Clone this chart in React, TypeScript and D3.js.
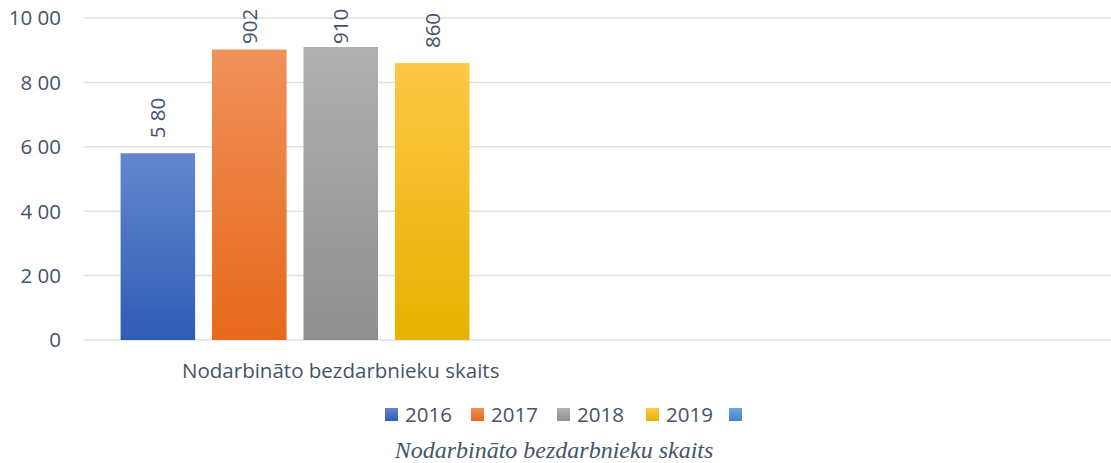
import React, { useEffect } from 'react';
import * as d3 from 'd3';

// chart data
const categories = ['Nodarbināto bezdarbnieku skaits', ''];
const seriesNames = ['2016', '2017', '2018', '2019', ''];
const values = [580, 902, 910, 860, null];
const valueLabels = ['5 80', '902', '910', '860', ''];
const yTicks = [0, 200, 400, 600, 800, 1000];
const yTickLabels = ['0', '2 00', '4 00', '6 00', '8 00', '10 00'];
const caption = 'Nodarbināto bezdarbnieku skaits';

// gradient colours per series: [top, bottom]
const colors = [
  ['#6486cd', '#2e5db6'],
  ['#f19159', '#e6681b'],
  ['#b1b1b1', '#8f8f8f'],
  ['#ffc746', '#e5b300'],
  ['#6ea7dd', '#3f85c9'],
];

const W = 1111;
const H = 463;
const textColor = '#44546a';
const gridColor = '#dde1e6';
const font = '"Open Sans", "Noto Sans", sans-serif';

export default function App() {
  useEffect(() => {
    document.body.style.margin = '0';
  }, []);

  const x0 = d3.scaleBand().domain(categories).range([84, W]);
  const x1 = d3
    .scaleBand()
    .domain(seriesNames.map((_, i) => String(i)))
    .range([0, x0.bandwidth()])
    .paddingInner(0.185)
    .paddingOuter(0.4);
  const y = d3.scaleLinear().domain([0, 1000]).range([340, 18]);

  // legend layout
  const legendStep = [86, 86, 89, 83];
  const legendX: number[] = [];
  let lx = 385;
  seriesNames.forEach((_, i) => {
    legendX.push(lx);
    lx += legendStep[i] || 0;
  });

  return (
    <svg width={W} height={H} style={{ display: 'block', background: '#fff' }}>
      <defs>
        {colors.map((c, i) => (
          <linearGradient key={i} id={`grad${i}`} x1="0" y1="0" x2="0" y2="1">
            <stop offset="0%" stopColor={c[0]} />
            <stop offset="100%" stopColor={c[1]} />
          </linearGradient>
        ))}
      </defs>

      {/* gridlines */}
      {yTicks.map((t) => (
        <line
          key={t}
          x1={84}
          x2={W}
          y1={y(t)}
          y2={y(t)}
          stroke={gridColor}
          strokeWidth={1.5}
        />
      ))}

      {/* y tick labels */}
      {yTicks.map((t, i) => (
        <text
          key={t}
          x={61}
          y={y(t)}
          dy="0.36em"
          textAnchor="end"
          fontFamily={font}
          fontSize={20.5}
          fill={textColor}
        >
          {yTickLabels[i]}
        </text>
      ))}

      {/* bars */}
      {values.map((v, i) => {
        if (v == null) return null;
        const bx = (x0(categories[0]) as number) + (x1(String(i)) as number);
        const bw = x1.bandwidth();
        const top = y(v);
        // labels sit above the bar, pushed down if they would leave the plot
        const labelEnd = Math.max(top - 15, 44);
        return (
          <g key={i}>
            <rect x={bx} y={top} width={bw} height={y(0) - top} fill={`url(#grad${i})`} />
            <text
              transform={`translate(${bx + bw / 2 + 7.5},${labelEnd}) rotate(-90)`}
              textAnchor="start"
              fontFamily={font}
              fontSize={20.5}
              fill={textColor}
            >
              {valueLabels[i]}
            </text>
          </g>
        );
      })}

      {/* category label */}
      <text
        x={(x0(categories[0]) as number) + x0.bandwidth() / 2}
        y={378}
        textAnchor="middle"
        fontFamily={font}
        fontSize={20.5}
        fill={textColor}
      >
        {categories[0]}
      </text>

      {/* legend */}
      {seriesNames.map((s, i) => (
        <g key={i} transform={`translate(${legendX[i]},0)`}>
          <rect x={0} y={408} width={13} height={13} fill={`url(#grad${i})`} />
          <text x={20} y={421.5} fontFamily={font} fontSize={20.5} fill={textColor}>
            {s}
          </text>
        </g>
      ))}

      {/* caption */}
      <text
        x={554}
        y={458}
        textAnchor="middle"
        fontFamily='"Liberation Serif", "Times New Roman", serif'
        fontStyle="italic"
        fontSize={24}
        fill={textColor}
      >
        {caption}
      </text>
    </svg>
  );
}
